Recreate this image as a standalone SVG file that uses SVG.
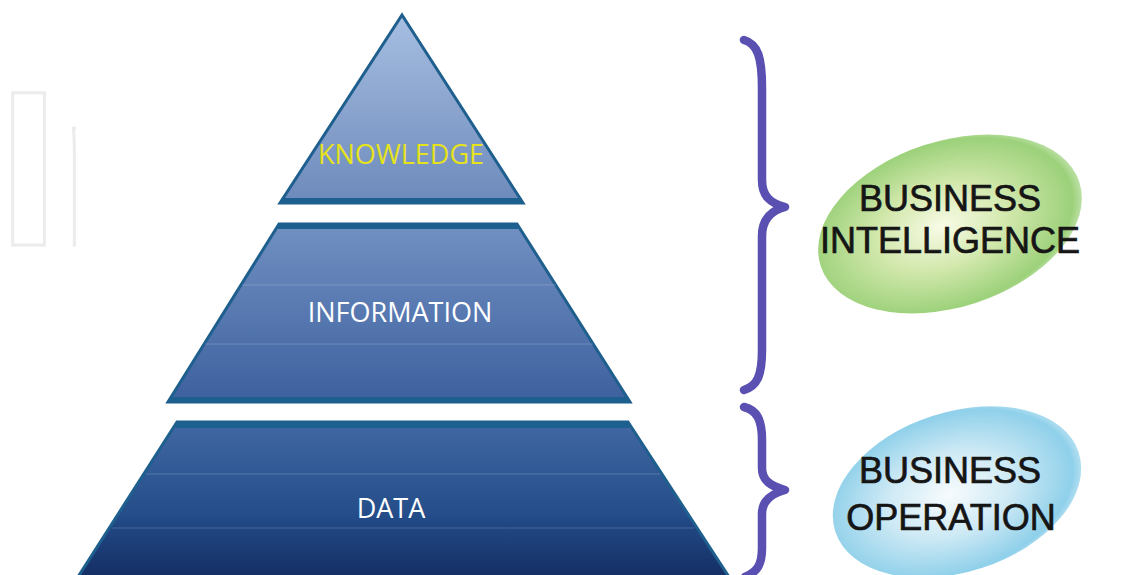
<svg xmlns="http://www.w3.org/2000/svg" width="1143" height="575" viewBox="0 0 1143 575">
<style>
.lvl{stroke:#1f5f8e;stroke-width:3;stroke-linejoin:miter}
.band{stroke:#1d5f8e;stroke-width:6}
.sheen{stroke:#ffffff;stroke-opacity:0.12;stroke-width:1.5}
.lbl{font-family:"Open Sans","Liberation Sans",sans-serif;font-size:27px;text-anchor:middle}
.blob{font-family:"Liberation Sans",Arial,sans-serif;font-size:36px;fill:#151515;stroke:#151515;stroke-width:0.7;text-anchor:middle}
.brace{fill:none;stroke:#5a50b2;stroke-width:8.5;stroke-linecap:round;stroke-linejoin:round}
.wm{font-family:"Liberation Sans",Arial,sans-serif;font-weight:bold;font-size:220px;fill:none;stroke:#ececec;stroke-width:3}
</style>
<defs>
<linearGradient id="gTop" x1="0" y1="15" x2="0" y2="203" gradientUnits="userSpaceOnUse">
<stop offset="0" stop-color="#a6bee1"/><stop offset="1" stop-color="#6d8abb"/>
</linearGradient>
<linearGradient id="gMid" x1="0" y1="224" x2="0" y2="403" gradientUnits="userSpaceOnUse">
<stop offset="0" stop-color="#7190c2"/><stop offset="1" stop-color="#3d609e"/>
</linearGradient>
<linearGradient id="gBot" x1="0" y1="422" x2="0" y2="575" gradientUnits="userSpaceOnUse">
<stop offset="0" stop-color="#4168a3"/><stop offset="0.6" stop-color="#244d89"/><stop offset="1" stop-color="#152f66"/>
</linearGradient>
<radialGradient id="gGreen" cx="0.47" cy="0.5" r="0.55">
<stop offset="0" stop-color="#f8fbe6"/><stop offset="0.45" stop-color="#d2e8ac"/><stop offset="0.9" stop-color="#9cd17a"/><stop offset="1" stop-color="#a8d88c" stop-opacity="0.6"/>
</radialGradient>
<radialGradient id="gBlue" cx="0.47" cy="0.5" r="0.55">
<stop offset="0" stop-color="#f7fbfd"/><stop offset="0.45" stop-color="#cfeaf5"/><stop offset="0.9" stop-color="#8fd0ea"/><stop offset="1" stop-color="#9ad6ee" stop-opacity="0.6"/>
</radialGradient>
<clipPath id="cL"><rect x="0" y="0" width="76" height="575"/></clipPath>
</defs>
<rect width="1143" height="575" fill="#ffffff"/>
<g id="watermark">
<text class="wm" x="-2" y="245" clip-path="url(#cL)">In</text>
</g>
<g id="knowledge">
<polygon class="lvl" points="402,15 523,203 280,203" fill="url(#gTop)"/>
<line class="band" x1="281" y1="201" x2="522" y2="201"/>
<text class="lbl" x="401" y="164" fill="#e6e31c">KNOWLEDGE</text>
</g>
<g id="information">
<polygon class="lvl" points="279,224 517,224 630,402 168,402" fill="url(#gMid)"/>
<line class="band" x1="278" y1="226" x2="518" y2="226"/>
<line class="band" x1="170" y1="400" x2="629" y2="400"/>
<line class="sheen" x1="242" y1="285" x2="556" y2="285"/>
<line class="sheen" x1="205" y1="344" x2="593" y2="344"/>
<text class="lbl" x="400" y="322" fill="#ffffff">INFORMATION</text>
</g>
<g id="data">
<polygon class="lvl" points="177,422 628,422 731,580 76,580" fill="url(#gBot)"/>
<line class="band" x1="176" y1="425" x2="629" y2="425"/>
<line class="sheen" x1="146" y1="474" x2="660" y2="474"/>
<line class="sheen" x1="112" y1="528" x2="694" y2="528"/>
<text class="lbl" x="391" y="518" fill="#ffffff">DATA</text>
</g>
<g id="connectors">
<path class="brace" d="M744,40 C758,44 762,58 762,88 L762,180 C762,196 770,203 785,207 C770,211 762,220 762,236 L762,350 C762,376 757,386 744,390"/>
<path class="brace" d="M744,407 C757,410 762,420 762,440 L762,468 C762,480 770,486 785,490 C770,494 762,502 762,514 L762,548 C762,565 757,572 745,577"/>
</g>
<g id="business-intelligence">
<ellipse cx="950" cy="224" rx="136" ry="83" transform="rotate(-18 950 224)" fill="url(#gGreen)"/>
<text class="blob" x="950" y="211">BUSINESS</text>
<text class="blob" x="950" y="253">INTELLIGENCE</text>
</g>
<g id="business-operation">
<ellipse cx="957" cy="492" rx="128" ry="80" transform="rotate(-18 957 492)" fill="url(#gBlue)"/>
<text class="blob" x="950" y="483">BUSINESS</text>
<text class="blob" x="951" y="530">OPERATION</text>
</g>
</svg>
